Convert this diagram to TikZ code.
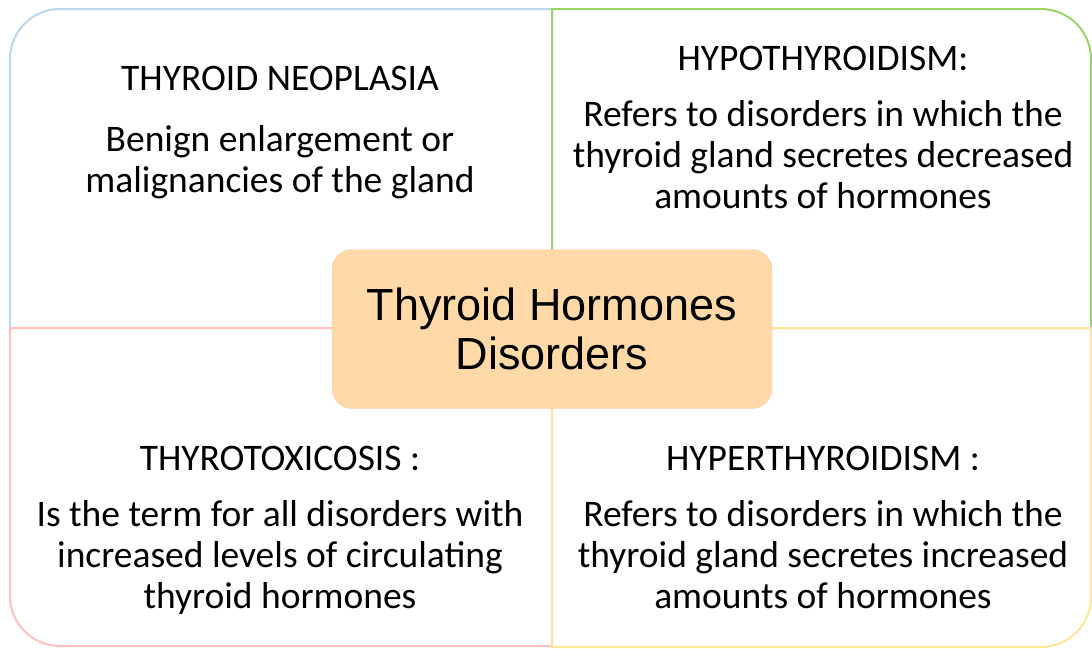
\documentclass[tikz,border=0pt]{standalone}
\usepackage{fontspec}
\setmainfont{Carlito}
\newfontfamily\arialfont{Liberation Sans}
\definecolor{neoblue}{HTML}{BDD7EE}
\definecolor{hypogreen}{HTML}{9BD46A}
\definecolor{toxpink}{HTML}{FFC0C0}
\definecolor{hyperyellow}{HTML}{FFE699}
\definecolor{centrefill}{HTML}{FFD9A8}
\definecolor{centreline}{HTML}{F5CDBE}

\begin{document}
\begin{tikzpicture}[x=1pt,y=-1pt,
  quad/.style={line width=2pt},
  head/.style={anchor=base,font=\fontsize{37.5}{41.5}\selectfont},
  body/.style={anchor=base,align=center,font=\fontsize{37.5}{41}\selectfont},
  centre/.style={draw=centreline,fill=centrefill,rounded corners=20pt,
    minimum width=440pt,minimum height=159pt,align=center,
    font=\arialfont\fontsize{45}{49}\selectfont}]
\useasboundingbox (0,0) rectangle (1092,648);

% Thyroid neoplasia
\draw[quad,neoblue] (552,328) -- (10,328) [rounded corners=50pt] -- (10,9) [sharp corners] -- (552,9) -- cycle;
\node[head] (neohead) at (280,90) {THYROID NEOPLASIA};
\node[body] (neobody) at (280,192) {Benign enlargement or\\malignancies of the gland};

% Hypothyroidism
\draw[quad,hypogreen] (552,328) -- (552,9) [rounded corners=50pt] -- (1091,9) [sharp corners] -- (1091,328) -- cycle;
\node[head] (hypohead) at (823,70) {HYPOTHYROIDISM:};
\node[body] (hypobody) at (823,208) {Refers to disorders in which the\\thyroid gland secretes decreased\\amounts of hormones};

% Thyrotoxicosis
\draw[quad,toxpink] (552,328) -- (10,328) [rounded corners=50pt] -- (10,646) [sharp corners] -- (552,646) -- cycle;
\node[head] (toxhead) at (280,470) {THYROTOXICOSIS :};
\node[body] (toxbody) at (280,608) {Is the term for all disorders with\\increased levels of circulating\\thyroid hormones};

% Hyperthyroidism
\draw[quad,hyperyellow] (552,328) -- (552,647) [rounded corners=50pt] -- (1091,647) [sharp corners] -- (1091,328) -- cycle;
\node[head] (hyperhead) at (823,470) {HYPERTHYROIDISM :};
\node[body] (hyperbody) at (823,608) {Refers to disorders in which the\\thyroid gland secretes increased\\amounts of hormones};

% Centre
\node[centre] (centre) at (552,329) {Thyroid Hormones\\Disorders};
\end{tikzpicture}
\end{document}
